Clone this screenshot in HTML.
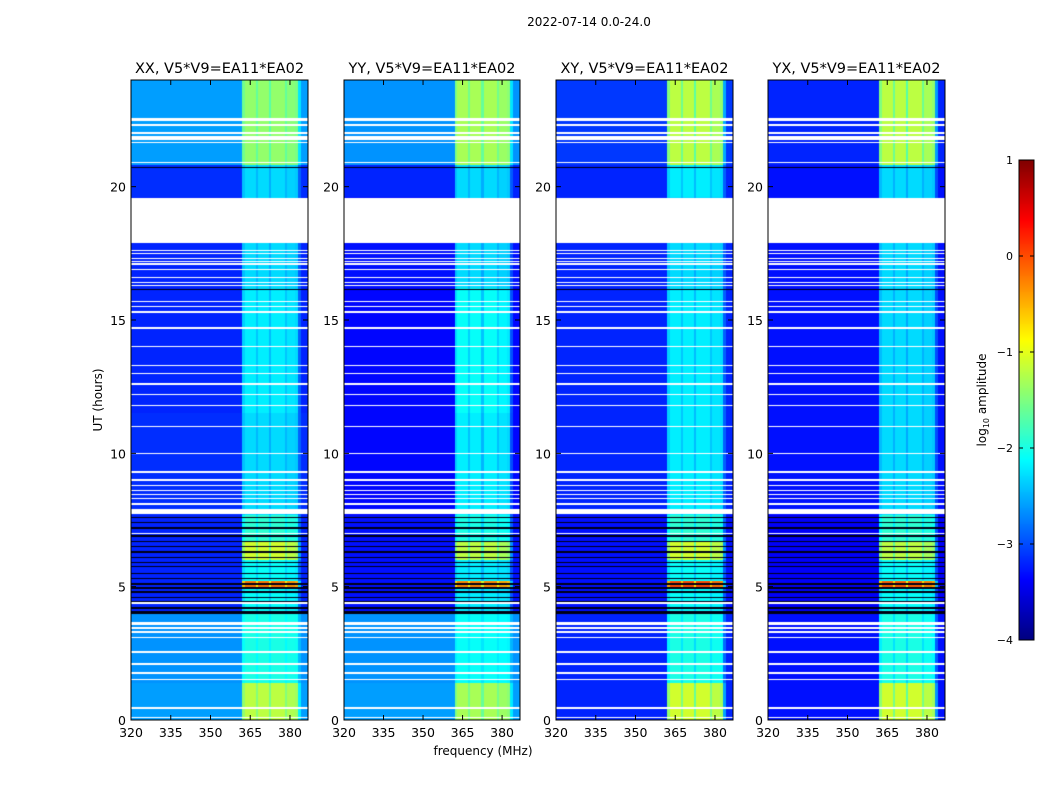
<!DOCTYPE html>
<html><head><meta charset="utf-8">
<style>
body{margin:0;background:#fff;width:1050px;height:800px;overflow:hidden;position:relative;font-family:"DejaVu Sans","Liberation Sans",sans-serif}
canvas{position:absolute}
svg{position:absolute;left:0;top:0;font-family:"DejaVu Sans","Liberation Sans",sans-serif}
</style></head>
<body>
<div>
<canvas id="c0" width="177" height="640" style="left:131px;top:80px"></canvas>
<canvas id="c1" width="176" height="640" style="left:344px;top:80px"></canvas>
<canvas id="c2" width="177" height="640" style="left:556px;top:80px"></canvas>
<canvas id="c3" width="177" height="640" style="left:768px;top:80px"></canvas>
<canvas id="cb" width="15" height="480" style="left:1019px;top:160px"></canvas>
<svg id="ov" width="1050" height="800"></svg>
</div>
<script>
// ---- data ----
const panelTitles=["XX, V5*V9=EA11*EA02","YY, V5*V9=EA11*EA02","XY, V5*V9=EA11*EA02","YX, V5*V9=EA11*EA02"];
const xTicks=[320,335,350,365,380];
const yTicks=[0,5,10,15,20];
const cbTicks=[1,0,-1,-2,-3,-4];
const segStart=[0,1.4,4.0,4.9,5.2,6.0,6.7,7.7,11.5,16.2,19.6,20.8];
const segEnd=[1.4,4.0,4.9,5.2,6.0,6.7,7.7,11.5,16.2,19.6,20.8,24];
const baseXX=[-2.6,-2.65,-3.2,-3.2,-3.2,-3.2,-3.2,-3.15,-3.2,-3.2,-3.15,-2.6];
const bandXX=[-1.2,-2.0,-2.1,-0.2,-2.1,-1.1,-1.9,-2.3,-2.2,-2.3,-2.3,-1.4];
const baseYY=[-2.6,-2.65,-3.3,-3.3,-3.3,-3.3,-3.3,-3.35,-3.35,-3.3,-3.2,-2.65];
const bandYY=[-1.3,-2.1,-2.2,-0.3,-2.2,-1.2,-2.0,-2.2,-2.1,-2.3,-2.3,-1.3];
const baseXY=[-3.2,-3.2,-3.3,-3.3,-3.3,-3.3,-3.3,-3.2,-3.2,-3.2,-3.2,-3.1];
const bandXY=[-1.1,-2.0,-2.1,0.0,-2.1,-1.1,-1.9,-2.2,-2.2,-2.3,-2.2,-1.2];
const baseYX=[-3.3,-3.3,-3.4,-3.4,-3.4,-3.4,-3.4,-3.3,-3.3,-3.3,-3.3,-3.2];
const bandYX=[-1.1,-2.0,-2.1,-0.1,-2.1,-1.2,-1.9,-2.3,-2.3,-2.3,-2.3,-1.2];
// band weight per MHz starting at 320
const freqWeight=[0,0,0,0,0,0,0,0,0,0, 0,0,0,0,0,0,0,0,0,0, 0,0,0,0,0,0,0,0,0,0, 0,0,0,0,0,0,0,0,0,0, 0,0,0.85,1,1,1,1,0.8,1,1, 1,1,0.75,1,1,1,1,1,0.8,0.95, 0.95,0.95,0.9,0.3,0,0,0];
const flagged=[0.1,0.45,1.53,1.76,2.1,2.55,3.1,3.3,3.45,3.58,3.64,4.39,7.0,8.1,8.3,8.45,8.6,8.8,9.0,9.3,10.0,11.0,11.8,12.2,12.6,13.0,13.3,14.0,14.7,15.3,15.5,15.7,16.3,16.4,16.6,16.9,17.1,17.2,17.3,17.5,17.6,20.92,21.67,21.79,21.86,22.01,22.31,22.5,22.57];
const gapStart=17.9, gapEnd=19.57;
const whiteBandStart=7.72, whiteBandEnd=7.9;
const blackRows=[4.0,4.05,4.2,4.45,4.6,4.8,4.95,5.1,5.3,5.5,5.75,5.9,6.1,6.3,6.5,6.7,6.9,7.2,7.4,7.6,16.15,20.73];
const bases=[baseXX,baseYY,baseXY,baseYX];
const bands=[bandXX,bandYY,bandXY,bandYX];
// ---- geometry ----
const PX=[131,344,556,768], PW=[177,176,177,177], PY=80, PH=640;
const FMIN=320, FMAX=386.8, HMAX=24;
function jet(v){
  const r=Math.min(Math.max(1.5-Math.abs(4*v-3),0),1);
  const g=Math.min(Math.max(1.5-Math.abs(4*v-2),0),1);
  const b=Math.min(Math.max(1.5-Math.abs(4*v-1),0),1);
  return [r*255|0,g*255|0,b*255|0];
}
function norm(l){return Math.min(Math.max((l+4)/5,0),1);}
for(let p=0;p<4;p++){
  const cv=document.getElementById('c'+p),ctx=cv.getContext('2d');
  const W=cv.width,img=ctx.createImageData(W,PH),d=img.data;
  const hpp=HMAX/PH;
  for(let y=0;y<PH;y++){
    const h=HMAX-(y+0.5)*hpp;
    let s=0;for(let i=0;i<segStart.length;i++){if(h>=segStart[i]&&h<segEnd[i])s=i;}
    let mode=0;
    if((h>=gapStart&&h<gapEnd)||(h>=whiteBandStart&&h<whiteBandEnd))mode=1;
    for(const f of flagged){if(Math.abs(h-f)<hpp*0.6)mode=1;}
    if(!mode)for(const b of blackRows){if(Math.abs(h-b)<hpp*0.6)mode=2;}
    for(let x=0;x<W;x++){
      const k=(y*W+x)*4;
      if(mode===1){d[k]=d[k+1]=d[k+2]=255;d[k+3]=255;continue;}
      if(mode===2){d[k]=0;d[k+1]=0;d[k+2]=20;d[k+3]=255;continue;}
      const f=FMIN+(x+0.5)/W*(FMAX-FMIN);
      const w=freqWeight[Math.min(freqWeight.length-1,Math.floor(f-FMIN))];
      const lv=bases[p][s]+(bands[p][s]-bases[p][s])*w;
      const c=jet(norm(lv));
      d[k]=c[0];d[k+1]=c[1];d[k+2]=c[2];d[k+3]=255;
    }
  }
  ctx.putImageData(img,0,0);
}
(function(){const cv=document.getElementById('cb'),ctx=cv.getContext('2d');
for(let y=0;y<480;y++){const c=jet(1-(y+0.5)/480);ctx.fillStyle=`rgb(${c[0]},${c[1]},${c[2]})`;ctx.fillRect(0,y,15,1);}})();
const NS='http://www.w3.org/2000/svg',ov=document.getElementById('ov');
function el(t,a,txt){const e=document.createElementNS(NS,t);for(const k in a)e.setAttribute(k,a[k]);if(txt!==undefined)e.textContent=txt;ov.appendChild(e);return e;}
const sup=el('text',{x:589,y:26,'font-size':12,'text-anchor':'middle',fill:'#000'},'2022-07-14 0.0-24.0');


for(let p=0;p<4;p++){
  const x0=PX[p],w=PW[p];
  const fx=f=>x0+(f-FMIN)/(FMAX-FMIN)*w;
  const hy=h=>PY+PH-h/HMAX*PH;
  const fr=el('rect',{x:x0,y:PY,width:w,height:PH,fill:'none',stroke:'#000','stroke-width':1});
  
  
  const t=el('text',{x:x0+w/2,y:73,'font-size':14.5,'text-anchor':'middle',fill:'#000'},panelTitles[p]);
  
  
  for(const f of xTicks){const X=fx(f);
    el('line',{x1:X,y1:PY+PH,x2:X,y2:PY+PH-5,stroke:'#000'});
    el('line',{x1:X,y1:PY,x2:X,y2:PY+5,stroke:'#000'});
    const l=el('text',{x:X,y:737,'font-size':12.5,'text-anchor':'middle',fill:'#000'},String(f));
    
    }
  for(const h of yTicks){const Y=hy(h);
    el('line',{x1:x0,y1:Y,x2:x0+5,y2:Y,stroke:'#000'});
    el('line',{x1:x0+w,y1:Y,x2:x0+w-5,y2:Y,stroke:'#000'});
    const l=el('text',{x:x0-5,y:Y+5,'font-size':12.5,'text-anchor':'end',fill:'#000'},String(h));
    
    }
}
const yl=el('text',{x:0,y:0,'font-size':12,'text-anchor':'middle',fill:'#000',transform:'translate(102,400) rotate(-90)'},'UT (hours)');


const xl=el('text',{x:483,y:755,'font-size':12,'text-anchor':'middle',fill:'#000'},'frequency (MHz)');


const cbf=el('rect',{x:1019,y:160,width:15,height:480,fill:'none',stroke:'#000'});


for(const v of cbTicks){const Y=160+(1-v)/5*480;
  el('line',{x1:1019,y1:Y,x2:1023,y2:Y,stroke:'#000'});
  el('line',{x1:1034,y1:Y,x2:1030,y2:Y,stroke:'#000'});
  const l=el('text',{x:1013,y:Y+4,'font-size':11,'text-anchor':'end',fill:'#000'},v<0?'\u2212'+(-v):String(v));
  
  }
const cl=el('text',{x:0,y:0,'font-size':12,'text-anchor':'middle',fill:'#000',transform:'translate(986,400) rotate(-90)'});


cl.innerHTML='log<tspan font-size="8" dy="3">10</tspan><tspan dy="-3"> amplitude</tspan>';
</script>
</body></html>
